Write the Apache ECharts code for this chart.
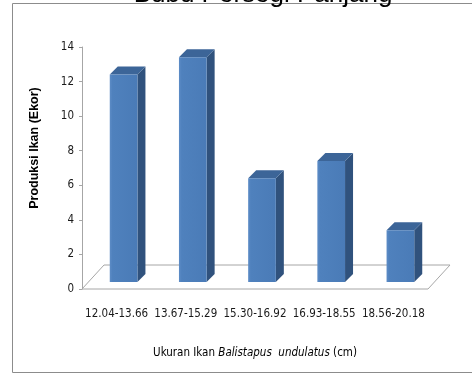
<!DOCTYPE html>
<html><head><meta charset="utf-8">
<script src="https://cdn.jsdelivr.net/npm/echarts@6/dist/echarts.min.js"></script>
<style>html,body{margin:0;padding:0;background:#fff}#c{width:472px;height:377px}</style>
</head><body><div id="c"></div>
<script>
const categories = ['12.04-13.66','13.67-15.29','15.30-16.92','16.93-18.55','18.56-20.18'];
const values = [12, 13, 6, 7, 3];
const yTicks = {min: 0, max: 14, interval: 2};

const FONT = '"Liberation Sans Narrow", "DejaVu Sans Condensed", sans-serif';
const chart = echarts.init(document.getElementById('c'), null, {renderer: 'canvas'});

const floorDX = 22, floorDY = -24;
const barDX = 7, barDY = -7, depth = 8;

function renderFloor(params, api) {
  const cs = params.coordSys;
  const x0 = cs.x, x1 = cs.x + cs.width, y0 = cs.y + cs.height;
  return {
    type: 'polygon',
    shape: {points: [[x0, y0], [x1, y0], [x1 + floorDX, y0 + floorDY], [x0 + floorDX, y0 + floorDY]]},
    style: {fill: '#fff', stroke: '#a6a6a6', lineWidth: 1}
  };
}

function renderBar(params, api) {
  const i = api.value(0), v = api.value(1);
  const base = api.coord([i, 0]);
  const top = api.coord([i, v]);
  const w = api.size([1, 0])[0] * 0.4;
  const xl = base[0] + barDX - w / 2, xr = xl + w;
  const yb = base[1] + barDY, yt = top[1] + barDY;
  return {
    type: 'group',
    children: [
      {type: 'polygon', shape: {points: [[xr, yb], [xr + depth, yb - depth], [xr + depth, yt - depth], [xr, yt]]},
       style: {fill: '#30527d'}},
      {type: 'polygon', shape: {points: [[xl, yt], [xr, yt], [xr + depth, yt - depth], [xl + depth, yt - depth]]},
       style: {fill: '#3c6598'}},
      {type: 'rect', shape: {x: xl, y: yt, width: w, height: yb - yt},
       style: {fill: new echarts.graphic.LinearGradient(0, 0, 1, 0, [
         {offset: 0, color: '#5d8cc6'}, {offset: 0.1, color: '#4f81bd'}, {offset: 1, color: '#4a7bb7'}])}}
    ]
  };
}

chart.setOption({
  animation: false,
  graphic: [
    {type: 'rect', shape: {x: 12.5, y: 3.5, width: 480, height: 369}, style: {fill: 'none', stroke: '#8c8c8c', lineWidth: 1}, z: -10, silent: true},
    {type: 'text', x: 263, y: 8, z: 10,
     style: {text: 'Bubu Persegi Panjang', fontFamily: '"Liberation Sans", Arial, sans-serif', fontSize: 26, fill: '#000',
       textAlign: 'center', textVerticalAlign: 'bottom'}},
    {type: 'text', x: 35, y: 148, rotation: Math.PI / 2,
     style: {text: 'Produksi Ikan (Ekor)', fontFamily: '"Liberation Sans", Arial, sans-serif', fontSize: 12.5, fontWeight: 'bold', fill: '#000',
       textAlign: 'center', textVerticalAlign: 'middle'}}
  ],
  grid: {left: 82, top: 47, width: 346, height: 242},
  xAxis: {
    type: 'category', data: categories,
    axisLine: {show: false}, axisTick: {show: false},
    axisLabel: {interval: 0, margin: 19, fontFamily: FONT, fontSize: 11.5, color: '#1a1a1a'},
    name: '{b|Ukuran Ikan }{i|Balistapus  undulatus}{b| (cm)}',
    nameLocation: 'middle', nameGap: 58,
    nameTextStyle: {
      rich: {
        b: {fontFamily: FONT, fontSize: 11.5, fontWeight: 'normal', color: '#000'},
        i: {fontFamily: FONT, fontSize: 11.5, fontStyle: 'italic', color: '#000'}
      }
    }
  },
  yAxis: {
    type: 'value', min: yTicks.min, max: yTicks.max, interval: yTicks.interval,
    axisLine: {show: true, lineStyle: {color: '#a6a6a6'}},
    axisTick: {show: true, length: 3, lineStyle: {color: '#a6a6a6'}},
    axisLabel: {margin: 8, fontFamily: FONT, fontSize: 11.5, color: '#1a1a1a'},
    splitLine: {show: false}
  },
  series: [
    {type: 'custom', renderItem: renderFloor, data: [[0, 0]], z: 1, silent: true},
    {type: 'custom', renderItem: renderBar, data: values.map((v, i) => [i, v]), z: 2,
     encode: {x: 0, y: 1}}
  ]
});
</script></body></html>
